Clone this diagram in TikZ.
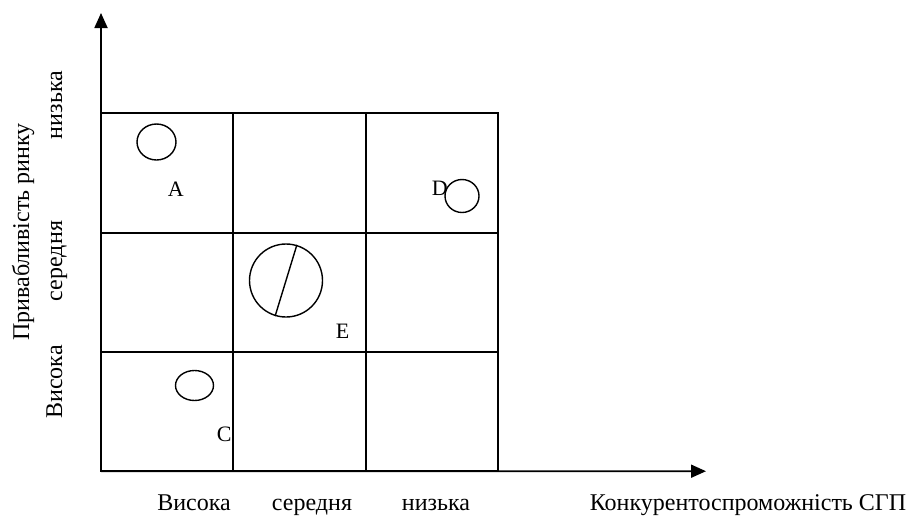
\documentclass[tikz,border=0pt]{standalone}
\usepackage{fontspec}
\setmainfont{Liberation Serif}
\usetikzlibrary{shapes.geometric, arrows.meta}
\begin{document}
\begin{tikzpicture}[x=1pt, y=-1pt, line width=1.8pt,
    cell/.style={draw, minimum width=132.3pt, minimum height=119.3pt, inner sep=0pt, outer sep=0pt},
    firm/.style={draw, ellipse, line width=1.4pt, inner sep=0pt},
    letter/.style={anchor=west, inner sep=0pt, font=\fontsize{22}{24}\selectfont},
    lbl/.style={inner sep=0pt, text height=17pt, text depth=5pt, font=\fontsize{24}{28}\selectfont}]
    \useasboundingbox (0,0) rectangle (910,525);

    % grid 3x3
    \node[cell] (c11) at (167.2,173.0) {};
    \node[cell] (c12) at (299.5,173.0) {};
    \node[cell] (c13) at (431.8,173.0) {};
    \node[cell] (c21) at (167.2,292.3) {};
    \node[cell] (c22) at (299.5,292.3) {};
    \node[cell] (c23) at (431.8,292.3) {};
    \node[cell] (c31) at (167.2,411.6) {};
    \node[cell] (c32) at (299.5,411.6) {};
    \node[cell] (c33) at (431.8,411.6) {};

    % axes
    \coordinate (origin) at (c31.south west);
    \coordinate (ytip) at (101,13);
    \coordinate (xtip) at (706,471.2);
    \draw[-{Triangle[length=15pt, width=13pt]}] (origin) -- (ytip);
    \draw[-{Triangle[length=15pt, width=13pt]}] (origin) -- (xtip);

    % firms
    \node[firm, minimum width=39pt, minimum height=36pt] (cA) at (156.5,142) {};
    \node[firm, minimum width=34pt, minimum height=33pt] (cD) at (462,196) {};
    \node[firm, minimum width=73pt, minimum height=73pt] (cE) at (286,280.5) {};
    \node[firm, minimum width=38pt, minimum height=30pt] (cC) at (194.5,385.5) {};
    \draw[line width=1.4pt] (cE.73) -- (cE.253);

    \node[letter] (lA) at (167,189) {A};
    \node[letter] (lD) at (431,188) {D};
    \node[letter] (lE) at (335,331) {E};
    \node[letter] (lC) at (216,434) {C};

    % axis labels
    \node[lbl, rotate=90] (ytitle) at (23,232) {Привабливість ринку};
    \node[lbl, rotate=90] (yhigh) at (56,382) {Висока};
    \node[lbl, rotate=90] (ymid) at (56,261) {середня};
    \node[lbl, rotate=90] (ylow) at (56,105) {низька};

    \node[lbl] (xhigh) at (194,504) {Висока};
    \node[lbl] (xmid) at (312,504) {середня};
    \node[lbl] (xlow) at (436,504) {низька};
    \node[lbl] (xtitle) at (748,504) {Конкурентоспроможність СГП};
\end{tikzpicture}
\end{document}
